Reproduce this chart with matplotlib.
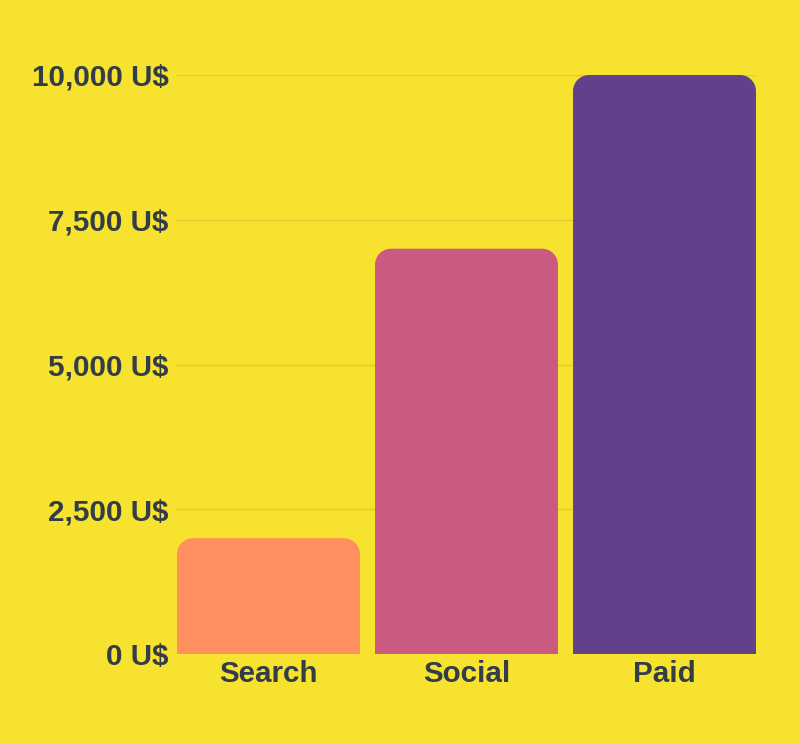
import matplotlib

matplotlib.use("Agg")
import matplotlib.pyplot as plt
from matplotlib.patches import PathPatch
from matplotlib.path import Path
import numpy as np

CATEGORIES = ["Search", "Social", "Paid"]
VALUES = [2000, 7000, 10000]
COLORS = ["#FF8F5F", "#CB5A80", "#62418B"]
Y_TICKS = [0, 2500, 5000, 7500, 10000]

BG = "#F7E22F"
TEXT = "#333D47"
GRID = "#E3CB2C"

plt.rcParams["font.family"] = ["Liberation Sans", "DejaVu Sans"]

fig = plt.figure(figsize=(8.0, 7.43), dpi=100, facecolor=BG)
ax = fig.add_axes([177 / 800, 89 / 743, 579 / 800, 579 / 743], facecolor=BG)

width = 0.924
x = np.arange(len(CATEGORIES))
ax.set_xlim(-width / 2, len(CATEGORIES) - 1 + width / 2)
ax.set_ylim(0, 10000)

for val in Y_TICKS:
    ax.axhline(val, color=GRID, lw=1.0, zorder=0)

fig.canvas.draw()
# corner radius in pixels, converted to data units
radius_px = 16
inv = ax.transData.inverted()
(x0, y0), (x1, y1) = inv.transform([(0, 0), (radius_px, radius_px)])
rx, ry = x1 - x0, y1 - y0
k = 0.5523

for xi, val, color in zip(x, VALUES, COLORS):
    left, right = xi - width / 2, xi + width / 2
    verts = [
        (left, 0), (left, val - ry),
        (left, val - ry + k * ry), (left + rx - k * rx, val), (left + rx, val),
        (right - rx, val),
        (right - rx + k * rx, val), (right, val - ry + k * ry), (right, val - ry),
        (right, 0), (left, 0),
    ]
    codes = [
        Path.MOVETO, Path.LINETO,
        Path.CURVE4, Path.CURVE4, Path.CURVE4,
        Path.LINETO,
        Path.CURVE4, Path.CURVE4, Path.CURVE4,
        Path.LINETO, Path.CLOSEPOLY,
    ]
    ax.add_patch(PathPatch(Path(verts, codes), facecolor=color, edgecolor="none", zorder=2, clip_on=False))

ax.set_xticks(x)
ax.set_xticklabels(CATEGORIES, fontsize=21.3, fontweight="bold", color=TEXT)
ax.set_yticks(Y_TICKS)
ax.set_yticklabels([f"{v:,} U$" for v in Y_TICKS], fontsize=21.3, fontweight="bold", color=TEXT)
ax.tick_params(axis="both", length=0)
ax.tick_params(axis="y", pad=6)
ax.tick_params(axis="x", pad=4)
for spine in ax.spines.values():
    spine.set_visible(False)

fig.savefig("out.png", dpi=100, facecolor=BG)
